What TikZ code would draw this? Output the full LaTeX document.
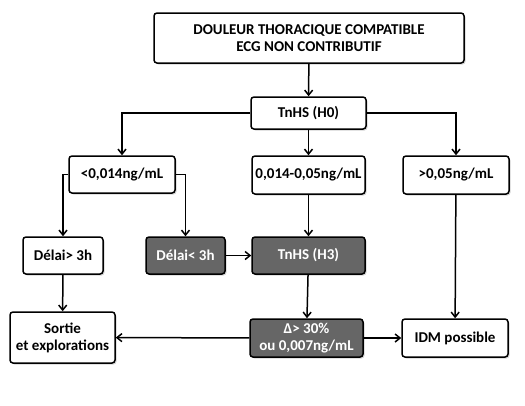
\documentclass[tikz,border=0pt]{standalone}
\usepackage{fontspec}
\setmainfont{Carlito}
\usetikzlibrary{shadows,arrows.meta}
\definecolor{boxdark}{RGB}{102,102,102}
\begin{document}
\begin{tikzpicture}
  [x=1pt,y=-1pt,>={Straight Barb[length=5pt,width=8pt]},
   every node/.style={draw,line width=1.5pt,rounded corners=3pt,fill=white,align=center,
     font=\fontsize{15}{17}\selectfont\bfseries,inner sep=1pt,
     drop shadow={shadow xshift=1.5pt,shadow yshift=-1.5pt,opacity=.35}},
   dark/.style={fill=boxdark,text=white},
   link/.style={->,line width=1.5pt}]
  \useasboundingbox (0,0) rectangle (525,405);
  \node[minimum width=310pt,minimum height=50pt] (top) at (309,38) {DOULEUR THORACIQUE COMPATIBLE\\ECG NON CONTRIBUTIF};
  \node[minimum width=115pt,minimum height=32pt] (h0) at (308.5,113) {TnHS (H0)};
  \node[minimum width=106pt,minimum height=37pt] (low) at (122,174.5) {<0,014ng/mL};
  \node[minimum width=113pt,minimum height=38pt] (mid) at (308.5,175) {0,014-0,05ng/mL};
  \node[minimum width=106pt,minimum height=38pt] (high) at (456,175) {>0,05ng/mL};
  \node[minimum width=80pt,minimum height=37pt] (dlong) at (63,255.5) {Délai> 3h};
  \node[dark,minimum width=79pt,minimum height=37pt] (dshort) at (185.5,255.5) {Délai< 3h};
  \node[dark,minimum width=113pt,minimum height=37pt] (h3) at (308.5,255.5) {TnHS (H3)};
  \node[minimum width=105pt,minimum height=51pt] (sortie) at (62.5,337.5) {Sortie\\et explorations};
  \node[dark,minimum width=113pt,minimum height=38pt] (delta) at (306.5,338) {Δ> 30\%\\ou 0,007ng/mL};
  \node[minimum width=106pt,minimum height=38pt] (idm) at (455,338) {IDM possible};
  \draw[link] (h0.west) -| (low.north);
  \draw[link] (h0.east) -| (high.north);
  \draw[link] (low.west) -| (dlong.north);
  \draw[link] (low.east) -| (dshort.north);
  \foreach \from/\to in {top/h0,h0/mid,mid/h3,dshort/h3,dlong/sortie,h3/delta,high/idm,delta/sortie,delta/idm}
    \draw[link] (\from) -- (\to);
\end{tikzpicture}
\end{document}
